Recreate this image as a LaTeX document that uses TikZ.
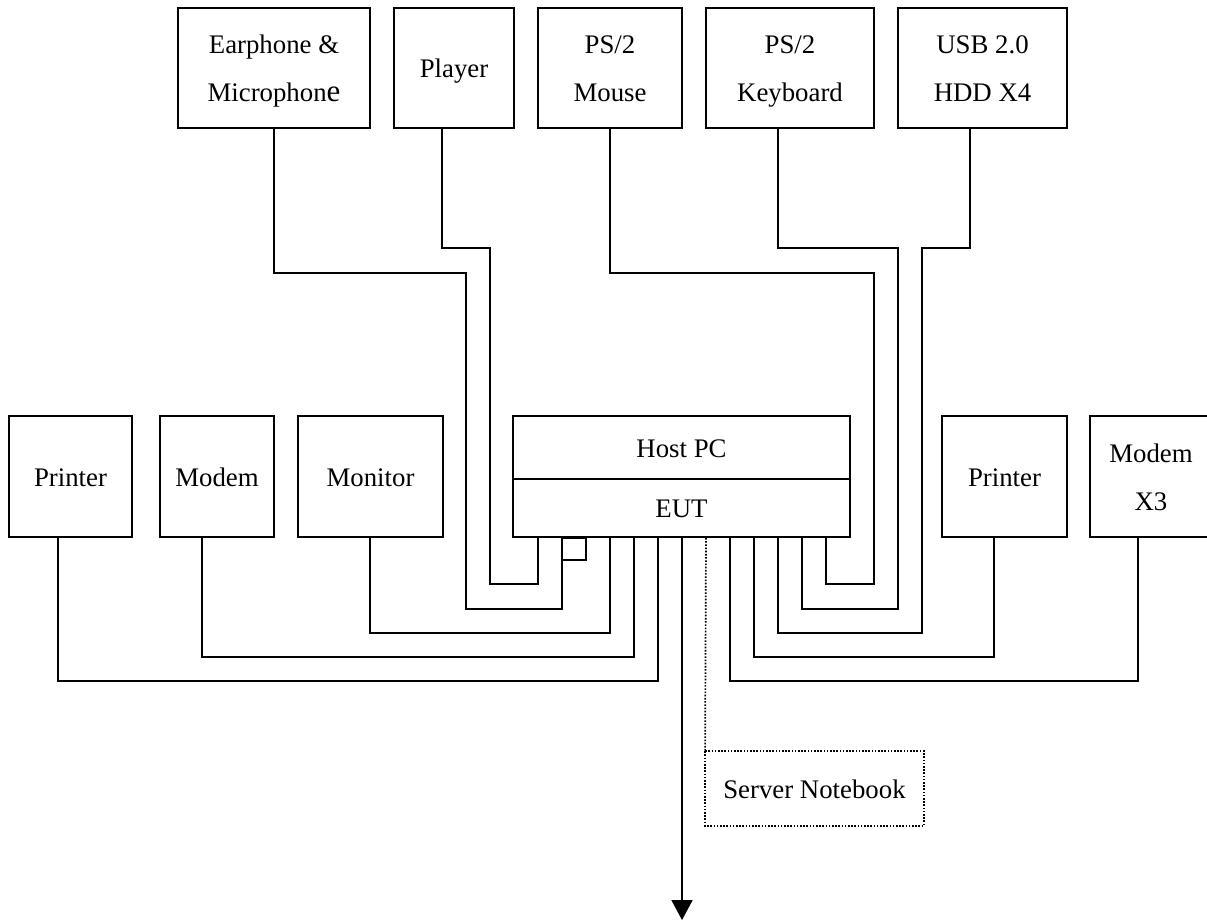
\documentclass[tikz,border=0pt]{standalone}
\usepackage{fontspec}
\setmainfont{Liberation Serif}
\usetikzlibrary{arrows.meta}
\begin{document}
\begin{tikzpicture}[x=1pt,y=-1pt,
  box/.style={draw,line width=1.8pt,inner sep=0pt,align=center,font=\fontsize{26.8}{48}\selectfont},
  wire/.style={line width=1.8pt},
  dotline/.style={line width=1.7pt,dash pattern=on 1.6pt off 1.6pt}]
\useasboundingbox (0,0) rectangle (1207,921);

% top row
\node[box,minimum width=192pt,minimum height=120pt] (ear) at (274,68) {\strut Earphone \&\\\strut Microphon{\fontsize{31}{31}\selectfont e}};
\node[box,minimum width=120pt,minimum height=120pt] (player) at (454,68) {\strut Player};
\node[box,minimum width=144pt,minimum height=120pt] (mouse) at (610,68) {\strut PS/2\\\strut Mouse};
\node[box,minimum width=168pt,minimum height=120pt] (kbd) at (790,68) {\strut PS/2\\\strut Keyboard};
\node[box,minimum width=169pt,minimum height=120pt] (usb) at (982.5,68) {\strut USB 2.0\\\strut HDD X4};

% middle row
\node[box,minimum width=123pt,minimum height=121pt] (prl) at (70.5,476.5) {\strut Printer};
\node[box,minimum width=114pt,minimum height=121pt] (mdl) at (217,476.5) {\strut Modem};
\node[box,minimum width=145pt,minimum height=121pt] (mon) at (370.5,476.5) {\strut Monitor};
\node[box,minimum width=337pt,minimum height=63pt] (host) at (681.5,447.5) {\strut Host PC};
\node[box,minimum width=337pt,minimum height=58pt] (eut) at (681.5,508) {\strut EUT};
\node[box,minimum width=125pt,minimum height=121pt] (prr) at (1004.5,476.5) {\strut Printer};
\node[box,minimum width=122pt,minimum height=121pt] (mdr) at (1151,476.5) {\strut Modem\\\strut X3};

% server notebook
\node[box,draw=none,minimum width=217pt,minimum height=73pt] (srv) at (814.5,788.5) {\strut Server Notebook};
\draw[dotline] (srv.north west) rectangle (srv.south east);

\coordinate (out) at (682,920);

% top connectors
\draw[wire] (ear.south) -- (274,272.7) -- (466,272.7) -- (466,609) -- (562,609) -- (562,0 |- eut.south);
\draw[wire] (562,0 |- eut.south) rectangle (586,560);
\draw[wire] (442,0 |- player.south) -- (442,248) -- (490,248) -- (490,584.3) -- (538,584.3) -- (538,0 |- eut.south);
\draw[wire] (mouse.south) -- (610,272.7) -- (874,272.7) -- (874,584.3) -- (826,584.3) -- (826,0 |- eut.south);
\draw[wire] (778,0 |- kbd.south) -- (778,248) -- (898,248) -- (898,609) -- (802,609) -- (802,0 |- eut.south);
\draw[wire] (970,0 |- usb.south) -- (970,248) -- (922,248) -- (922,633) -- (778,633) -- (778,0 |- eut.south);

% middle connectors
\draw[wire] (370,0 |- mon.south) -- (370,633) -- (610,633) -- (610,0 |- eut.south);
\draw[wire] (202,0 |- mdl.south) -- (202,657) -- (634,657) -- (634,0 |- eut.south);
\draw[wire] (58,0 |- prl.south) -- (58,681) -- (658,681) -- (658,0 |- eut.south);
\draw[wire] (994,0 |- prr.south) -- (994,657) -- (754,657) -- (754,0 |- eut.south);
\draw[wire] (1138,0 |- mdr.south) -- (1138,681) -- (730,681) -- (730,0 |- eut.south);

% arrow and dotted link
\draw[wire,-{Triangle[width=21pt,length=20pt]}] (682,0 |- eut.south) -- (out);
\draw[dotline] (706,0 |- eut.south) -- (srv.north west);
\end{tikzpicture}
\end{document}
